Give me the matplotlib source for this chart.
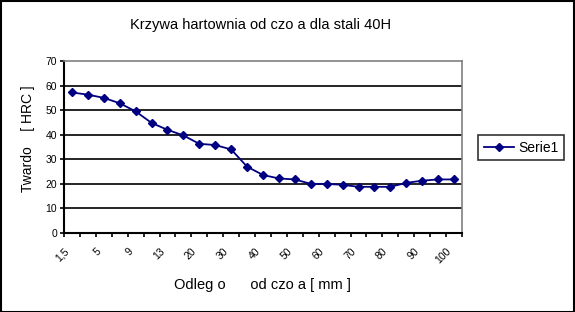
import matplotlib
matplotlib.use("Agg")
import matplotlib.pyplot as plt
from matplotlib.patches import Rectangle
from matplotlib.transforms import ScaledTranslation

plt.rcParams['font.family'] = ['Liberation Sans', 'DejaVu Sans']

categories = ["1,5", "3", "5", "7", "9", "11", "13", "15", "20", "25", "30", "35", "40",
              "45", "50", "55", "60", "65", "70", "75", "80", "85", "90", "95", "100"]
hrc = [57.2, 56.3, 55.0, 52.8, 49.5, 44.8, 42.0, 39.7, 36.3, 35.8, 34.0, 27.0, 23.6,
       22.2, 21.8, 20.0, 20.0, 19.6, 18.8, 18.8, 18.8, 20.4, 21.3, 21.8, 21.8]
yticks = [0, 10, 20, 30, 40, 50, 60, 70]

W, H = 575, 312
fig = plt.figure(figsize=(W / 100, H / 100), dpi=100)
ax = fig.add_axes([64 / W, 1 - 233 / H, (462 - 64) / W, (233 - 61) / H])

x = list(range(len(categories)))
ax.plot(x, hrc, color='#000080', lw=1.3, marker='D', ms=4.5, mfc='#000080', mec='#000080',
        label='Serie1', zorder=3)
ax.set_xlim(-0.5, len(categories) - 0.5)
ax.set_ylim(0, 70)
ax.set_yticks(yticks)
ax.set_yticklabels([str(v) for v in yticks], fontsize=7.5)
for v in yticks[1:-1]:
    ax.axhline(v, color='black', lw=1.2, zorder=1)

# category labels (every other one), rotated 45 degrees
ax.set_xticks([])
lab_tr = ax.get_xaxis_transform() + ScaledTranslation(-8 / 100, -13 / 100, fig.dpi_scale_trans)
for i in x:
    if i % 2 == 0:
        ax.text(i, 0, categories[i], transform=lab_tr, rotation=45, ha='right', va='top',
                rotation_mode='anchor', fontsize=7.5, clip_on=False)
ax.set_xticks([i - 0.5 for i in range(len(categories) + 1)], minor=True)
ax.tick_params(axis='x', which='minor', length=3, width=1.2, direction='out')
ax.tick_params(axis='y', length=3, width=1.2, direction='out', pad=2)

for s in ['top', 'right']:
    ax.spines[s].set_color('#808080')
    ax.spines[s].set_linewidth(1.2)
for s in ['left', 'bottom']:
    ax.spines[s].set_color('black')
    ax.spines[s].set_linewidth(1.5)

fig.text(261 / W, 1 - 25 / H, "Krzywa hartownia od czo a dla stali 40H", ha='center',
         va='center', fontsize=10.5)
fig.text(262 / W, 1 - 285 / H, "Odleg o      od czo a [ mm ]", ha='center', va='center',
         fontsize=10.5)
fig.text(28 / W, 1 - 139 / H, "Twardo    [ HRC ]", ha='center', va='center',
         rotation=90, fontsize=10)

leg = fig.legend(loc='center', bbox_to_anchor=(521 / W, 1 - 147.5 / H), fontsize=10,
                 frameon=True, fancybox=False, edgecolor='black', handlelength=2.2,
                 borderpad=0.4, handletextpad=0.3, borderaxespad=0)
leg.get_frame().set_linewidth(1.2)

fig.patches.append(Rectangle((0.5 / W, 0.5 / H), 1 - 1.5 / W, 1 - 1.5 / H,
                             transform=fig.transFigure, fill=False, edgecolor='black',
                             lw=1.5))
fig.savefig('out.png', dpi=100)
